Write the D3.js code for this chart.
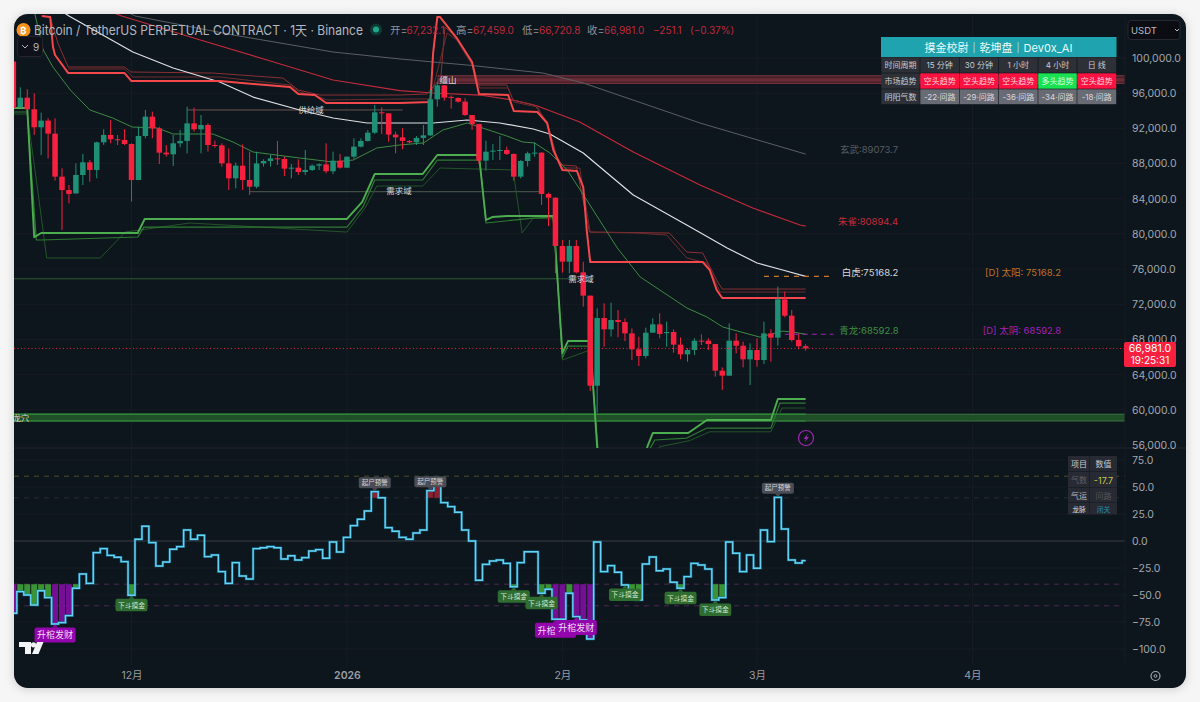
<!DOCTYPE html>
<html><head><meta charset="utf-8">
<script src="https://cdnjs.cloudflare.com/ajax/libs/d3/7.8.5/d3.min.js"></script>
<style>
html,body{margin:0;padding:0;background:#f6f6f7;overflow:hidden}
svg{display:block}
text{font-family:"Inter","Noto Sans CJK SC",sans-serif}
</style></head><body>
<svg id="c" width="1200" height="702"></svg>
<script>
// ---- data (BTCUSDT perpetual, 1D, thousands of USDT) – first candle index is -1 ----
const firstIndex=-1;
const opens=[99.6,94.39,95.49,94.17,92.12,92.88,91.40,86.51,84.99,84.6,86.70,88.14,87.27,90.41,91.25,90.76,90.68,90.22,86.13,91.13,93.33,92.01,89.24,89.05,90.30,90.57,92.57,91.89,92.38,90.11,90.07,88.02,86.32,87.76,86.13,85.37,88.02,88.29,88.59,88.52,87.42,87.53,87.04,87.27,87.76,87.91,87.12,88.33,87.53,88.78,89.92,90.57,91.51,93.82,93.71,91.29,90.98,90.57,90.41,90.91,91.21,95.30,96.89,95.58,95.45,95.04,93.52,92.50,88.33,89.35,89.47,89.54,89.09,86.51,88.29,89.16,89.24,84.54,84.12,78.63,76.84,78.63,75.63,72.98,62.74,70.44,69.15,70.21,69.98,68.69,66.88,66.12,68.77,69.72,68.72,68.85,67.41,66.31,66.80,67.86,67.86,67.48,64.45,63.88,67.86,67.29,65.74,66.80,65.66,68.69,68.20,72.56,70.70,67.94,67.232];
const highs=[99.8,96.67,96.44,95.99,93.79,93.14,93.14,87.46,85.56,88.02,89.09,88.40,90.49,91.89,92.95,91.25,91.89,90.30,92.19,94.09,93.90,92.19,90.11,91.25,91.82,94.47,94.36,93.52,92.57,90.60,90.30,89.73,88.10,90.19,89.35,89.35,88.48,88.97,90.57,88.78,87.95,88.48,89.54,87.91,88.02,90.30,89.35,89.09,88.78,90.87,90.87,91.82,94.66,94.39,93.71,91.63,92.01,90.68,91.13,92.38,96.36,97.31,96.93,95.76,95.53,95.42,93.52,92.50,90.60,90.22,91.13,89.92,89.16,88.40,89.35,90.41,89.28,84.69,84.16,79.31,79.31,79.31,76.84,72.98,71.54,72.10,72.18,71.35,70.40,69.26,68.32,69.34,70.40,70.97,70.02,69.15,68.24,66.99,68.13,68.58,68.13,67.5,64.83,69.83,68.69,67.75,67.56,68.13,70.02,69.15,74.00,73.43,71.35,68.69,67.459];
const lows=[94.3,94.39,94.09,91.25,88.97,88.59,86.05,80.45,83.48,84.61,85.56,85.94,86.32,90.11,90.30,90.11,90.11,83.67,86.13,90.87,90.87,87.95,88.78,87.72,89.85,89.16,91.63,89.16,89.35,89.81,87.65,84.99,85.18,84.99,84.43,85.18,87.65,87.65,87.84,86.59,86.32,86.70,86.70,87.15,87.27,86.89,86.81,87.42,87.53,88.52,89.85,90.49,91.36,91.36,90.49,89.16,89.62,90.30,90.11,90.11,91.13,94.47,95.15,94.24,94.92,93.41,91.82,87.95,87.19,88.40,88.40,88.97,86.05,86.32,87.65,88.78,83.29,80.90,75.52,75.59,75.52,75.52,71.73,62.14,59.67,67.18,68.32,68.24,67.82,65.66,64.98,65.85,68.77,68.13,67.18,66.50,65.74,65.47,66.23,67.37,66.80,63.77,62.25,63.88,66.42,64.83,62.82,64.90,65.21,65.47,67.29,70.51,67.75,66.88,66.7208];
const closes=[94.3,95.49,94.17,92.12,92.88,91.40,86.51,84.99,84.54,86.70,88.14,87.27,90.41,91.25,90.76,90.68,90.22,86.13,91.13,93.33,92.01,89.24,89.05,90.30,90.57,92.57,91.89,92.38,90.11,90.07,88.02,86.32,87.76,86.13,85.37,88.02,88.29,88.59,88.52,87.42,87.53,87.04,87.27,87.76,87.91,87.12,88.33,87.53,88.78,89.92,90.57,91.51,93.82,93.71,91.29,90.98,90.57,90.41,90.91,91.21,95.30,96.89,95.49,95.50,95.04,93.52,92.50,88.33,89.35,89.47,89.54,89.09,86.51,88.29,89.16,89.24,84.54,84.12,78.63,76.84,78.63,75.63,72.98,62.74,70.44,69.15,70.21,69.98,68.69,66.88,66.12,68.77,69.72,68.62,68.85,67.41,66.31,66.80,67.86,67.79,67.48,64.45,63.88,67.86,67.29,65.74,66.80,65.66,68.69,68.20,72.56,70.70,67.94,67.23,66.981];

const whiteTiger=[[6,105.3],[7,104.78],[16.2,100.68],[22,98.86],[28.7,97.27],[33.5,95.56],[40.2,94.09],[45,93.18],[49.9,92.61],[54.6,92.61],[59.4,92.61],[64.3,92.95],[69,92.61],[73.8,91.93],[76.2,91.36],[81,89.2],[88.2,84.42],[96.4,80.78],[101.7,78.4],[106,76.69],[109.7,75.9],[113,75.168]];
const redBird=[[12.5,105.4],[14.6,104.78],[25.9,102.05],[35.5,99.77],[45,97.5],[54.6,96.3],[59.4,96.02],[66.1,95.79],[70.9,95.22],[74.4,94.54],[80.5,92.72],[88.2,89.31],[97.8,85.56],[105.4,82.94],[112.2,81.01],[113,80.894]];
const blackTortoise=[[15.5,105.2],[16.5,104.78],[30.6,102.62],[45,100.68],[54.6,99.89],[64.3,99.2],[75.2,98.29],[81,97.16],[97.8,92.61],[113,89.074]];
const azureDragon=[[2.1,105],[3.3,100.91],[4.7,98.97],[7.2,96.36],[10,94.09],[13.3,93.18],[16.1,92.15],[19.7,92.04],[22,91.36],[27.7,91.36],[30.6,90.45],[33.5,89.31],[40.2,88.63],[45,88.17],[47.9,88.4],[51.3,89.77],[54.6,90.11],[58,90.34],[60.8,91.81],[64.3,92.61],[66.1,92.15],[70,91.13],[72.3,90.45],[74,90.34],[76.2,89.2],[78.7,87.27],[81.5,83.85],[85.9,78.4],[89.2,75.1],[95.9,71.58],[98.8,70.55],[101.1,69.41],[106.4,68.27],[109.7,68.95],[111.2,68.84],[113,68.593]];

const resistMain=[[3.1,104.78],[4.3,104.66],[4.7,101.25],[5,100.34],[6.9,98.29],[15,98.29],[16,97.38],[28.7,97.38],[38.8,96.7],[40,95.9],[42.4,95.79],[44,94.88],[54.6,94.88],[59,95.0],[59.4,100.57],[60,104.66],[60.4,104.66],[62.8,102.27],[65,99.55],[66,95.9],[70.2,95.79],[71,93.97],[74.4,93.86],[75.8,92.61],[76.7,89.54],[78,87.27],[80.1,87.15],[81,85.33],[81.5,80.44],[82,76.8],[98.2,76.8],[99.2,75.9],[100.2,73.62],[101,72.71],[113,72.71]];
const resistUpper=[[3.1,104.78],[4.3,104.66],[5.4,101.71],[6.9,98.97],[15,98.97],[15.9,98.41],[27.7,98.29],[37.8,97.72],[40,96.36],[43.1,95.79],[54.6,95.79],[58.5,95.9],[60.5,97.72],[61.1,103.52],[62.8,102.27],[65,99.43],[66,96.93],[70,96.93],[70.9,95.22],[74,94.66],[75.8,92.72],[77.2,88.74],[78,87.83],[80,87.72],[81.9,80.21],[93.4,80.1],[95.9,77.94],[98.2,77.83],[100.2,74.76],[101,73.73],[113,73.73]];
const resistMid=[[6.9,98.75],[15,98.75],[16.2,97.84],[28.7,97.84],[38.8,96.93],[40.2,96.13],[43.1,95.56],[44.1,95.22],[54.6,95.34],[59,95.34],[61.4,102.84],[62.8,102.05],[65,99.2],[66.1,96.59],[70.2,96.59],[71,95.0],[74.4,94.43],[75.9,92.38],[76.9,89.2],[78,87.49],[80.5,87.49],[82,80.21],[88.7,80.1],[93,79.87],[95.9,77.26],[98.8,76.69],[100.7,73.39],[113,73.39]];

const supportMain=[[-0.9,94.31],[1,94.31],[2,79.64],[3,80.1],[16.9,80.1],[17.9,81.7],[47,81.7],[49.2,83.63],[51,86.81],[57.9,86.81],[60,88.97],[65.7,88.97],[66.1,88.17],[67,81.58],[67.9,81.92],[70,82.03],[76.7,82.03],[78,66.46],[78.8,67.82],[82,67.82],[83,55.76],[84,50.5],[89.8,50.5],[90.2,55.76],[91,57.36],[96.1,57.36],[98.8,58.84],[108,58.84],[109,61.23],[113,61.23]];
const supportLower=[[-0.9,93.86],[1,93.86],[2.3,79.31],[3,79.31],[16.9,79.65],[17.8,80.78],[47,80.78],[49.3,83.06],[51,86.13],[57.9,86.13],[60,88.4],[66.1,88.4],[67,81.24],[73.8,81.8],[76.7,81.92],[78,65.89],[78.8,67.25],[82,67.25],[83.1,55.2],[84,50],[90,50],[90.3,55.2],[91.3,56.57],[95.9,56.79],[98.8,57.93],[108,57.93],[109.3,60.77],[113,60.77]];
const supportDim=[[-0.9,93.63],[1,93.63],[2.5,84.99],[3.8,77.26],[11.5,77.26],[15.1,80.21],[24.4,81.24],[47,80.21],[49.6,82.94],[51.3,85.44],[57.9,85.44],[60.4,87.49],[70.9,87.27],[72.2,80.1],[73.8,81.8],[76.7,81.69],[78,65.66],[82,66.8],[83.4,53.2],[90.6,53.2],[92,55.8],[96.3,56.5],[99.2,57.5],[108,57.5],[109.6,60.2],[113,60.2]];

const zoneSupply=[24,55,94.09], zoneDemandA=[33,75,84.8], zoneDemandB=[-2,80,74.9];
const mountainLevels=[97.98,97.6,97.4,97.12];
const dragonLevels=[59.5,58.73];

const qiValues=[-66.9,-46.9,-50,-59.2,-46,-52.4,-76.8,-75.6,-69.1,-43.8,-30.5,-39.2,-10.8,-7.1,-13.3,-15.1,-19.1,-50.3,1.6,13.6,-1.5,-23.1,-19.4,-7.7,-5.2,10.2,1.6,5.3,-14.5,-13,-28.4,-39.2,-20,-32.4,-35.2,-7.1,-6.2,-5.2,-6.2,-16.7,-13.6,-17.6,-15.4,-9.2,-8,-16,-0.9,-10.2,3.4,14.2,20.1,27.8,45.7,40.1,12.4,9,3.4,1.6,7.4,10.2,46.6,53.4,35.5,31.8,26.6,10.2,0,-36.4,-21.6,-18.5,-17.6,-20.7,-42.3,-20,-9.9,-9.9,-48.4,-44.7,-72.5,-72.5,-48.4,-70,-73.1,-90.7,-0.9,-28.4,-22.8,-29,-40.7,-48.4,-54.6,-21.3,-14.8,-27.5,-25.9,-38.2,-43.8,-33,-20.7,-22.2,-25.9,-54.6,-52.4,-0.9,-11.4,-28.4,-13,-25.3,10.2,-0.6,40.4,11.1,-17.6,-20.4,-18.2];
const qiLevelsYellow=[60,40], qiLevelsPurple=[-40,-60];
const sigGreen=[16,71,75,87,95,100], sigPurple=[5,77,80], sigGray=[51,59,109];

const priceTicks=[100000,96000,92000,88000,84000,80000,76000,72000,68000,64000,60000,56000];
const qiTicks=[75,50,25,0,-25,-50,-75,-100];
const monthIdx=[16,47,78,106,137], monthLabels=["12月","2026","2月","3月","4月"];
const lastPrice=66981, sunLevel=75168.2, moonLevel=68592.8;

const tableTitle="摸金校尉｜乾坤盘｜Dev0x_AI";
const tableHead=["时间周期","15 分钟","30 分钟","1 小时","4 小时","日 线"];
const tableTrend=["市场趋势","空头趋势","空头趋势","空头趋势","多头趋势","空头趋势"];
const tableQi=["阴阳气数","-22·问路","-29·问路","-36·问路","-34·问路","-18·问路"];
const sideRows=[["项目","数值"],["气数","-17.7"],["气运","问路"],["龙脉","闭关"]];

// ---- layout ----
const L=14,R=1186,T=14,B=688,PR=1125,midY=448,botY=665;
const bg="#10121a",grid="#181b23",up="#1f9076",dn="#f7213f";
const svg=d3.select("#c");
const defs=svg.append("defs");
defs.append("filter").attr("id","sh").attr("x","-5%").attr("y","-5%").attr("width","110%").attr("height","110%")
  .append("feDropShadow").attr("dx",0).attr("dy",1).attr("stdDeviation",5).attr("flood-color","#000").attr("flood-opacity",.18);
defs.append("clipPath").attr("id","card").append("rect").attr("x",L).attr("y",T).attr("width",R-L).attr("height",B-T).attr("rx",14);
defs.append("clipPath").attr("id","pMain").append("rect").attr("x",L).attr("y",T).attr("width",PR-L).attr("height",midY-T);
defs.append("clipPath").attr("id","pLow").append("rect").attr("x",L).attr("y",midY+1).attr("width",PR-L).attr("height",botY-midY-1);

svg.append("rect").attr("x",L).attr("y",T).attr("width",R-L).attr("height",B-T).attr("rx",14).attr("fill",bg).attr("filter","url(#sh)");
const root=svg.append("g").attr("clip-path","url(#card)");

const x=d3.scaleLinear().domain([0,113]).range([20.3,805.65]);
const y=d3.scaleLinear().domain([100000,56000]).range([58,445]);
const yq=d3.scaleLinear().domain([75,-100]).range([460,649]);
const indices=opens.map((_,i)=>i+firstIndex);

// grid
const gridG=root.append("g").attr("stroke",grid).attr("stroke-width",1);
gridG.selectAll(".v").data(monthIdx).join("line").attr("x1",d=>x(d)).attr("x2",d=>x(d)).attr("y1",T).attr("y2",botY);
gridG.selectAll(".h").data(priceTicks).join("line").attr("x1",L).attr("x2",PR).attr("y1",d=>y(d)).attr("y2",d=>y(d));
gridG.selectAll(".q").data(qiTicks.filter(d=>d!==0)).join("line").attr("x1",L).attr("x2",PR).attr("y1",d=>yq(d)).attr("y2",d=>yq(d));
root.append("line").attr("x1",L).attr("x2",R).attr("y1",midY).attr("y2",midY).attr("stroke","#1c1f27").attr("stroke-width",1.5);

// main pane
const m=root.append("g").attr("clip-path","url(#pMain)");
const k=v=>y(v*1000);
m.append("rect").attr("x",x(60)).attr("width",PR-x(60)).attr("y",k(mountainLevels[0])).attr("height",k(mountainLevels[3])-k(mountainLevels[0])).attr("fill","#43202a");
m.selectAll(".ml").data(mountainLevels).join("line").attr("x1",x(60)).attr("x2",PR).attr("y1",k).attr("y2",k).attr("stroke","#84343f").attr("stroke-width",1);
m.append("rect").attr("x",L).attr("width",PR-L).attr("y",k(dragonLevels[0])).attr("height",k(dragonLevels[1])-k(dragonLevels[0])).attr("fill","#1f4f27");
m.selectAll(".dl").data(dragonLevels).join("line").attr("x1",L).attr("x2",PR).attr("y1",k).attr("y2",k).attr("stroke","#3d7343").attr("stroke-width",1);
m.selectAll(".dlb").data(dragonLevels).join("line").attr("x1",L).attr("x2",x(113)).attr("y1",k).attr("y2",k).attr("stroke","#2f8f38").attr("stroke-width",1.2);

[[zoneSupply,"#6d5452"],[zoneDemandA,"#4f5a50"],[zoneDemandB,"#2d5a33"]].forEach(([z,c])=>{
  m.append("line").attr("x1",x(z[0])).attr("x2",x(z[1])).attr("y1",k(z[2])).attr("y2",k(z[2])).attr("stroke",c).attr("stroke-width",1);
});

const line=d3.line().x(d=>x(d[0])).y(d=>k(d[1]));
[[blackTortoise,"#5c5f66",1],[redBird,"#c32a3c",1.2],[supportDim,"#24552a",1],[supportLower,"#2f7a33",1.2],[resistUpper,"#8a3034",1],[resistMid,"#6e2c30",1],[azureDragon,"#3f8a44",1],[whiteTiger,"#dfe0e4",1.2],[supportMain,"#4cae4f",1.9],[resistMain,"#f4484c",2]].forEach(([d,c,w])=>{
  m.append("path").datum(d).attr("d",line).attr("fill","none").attr("stroke",c).attr("stroke-width",w).attr("stroke-linejoin","round");
});

// candles
const cg=m.append("g").selectAll("g").data(indices).join("g");
const col=i=>closes[i-firstIndex]>=opens[i-firstIndex]?up:dn;
cg.append("line").attr("x1",x).attr("x2",x).attr("y1",i=>k(highs[i-firstIndex])).attr("y2",i=>k(lows[i-firstIndex])).attr("stroke",col).attr("stroke-width",1);
cg.append("rect").attr("x",i=>x(i)-2.75).attr("width",5.5)
  .attr("y",i=>k(Math.max(opens[i-firstIndex],closes[i-firstIndex])))
  .attr("height",i=>Math.max(1,Math.abs(k(opens[i-firstIndex])-k(closes[i-firstIndex])))).attr("fill",col);

// levels
m.append("line").attr("x1",x(107)).attr("x2",x(117)).attr("y1",y(sunLevel)).attr("y2",y(sunLevel)).attr("stroke","#c77a2b").attr("stroke-width",1.2).attr("stroke-dasharray","5 5");
m.append("line").attr("x1",x(110)).attr("x2",x(117)).attr("y1",y(moonLevel)).attr("y2",y(moonLevel)).attr("stroke","#9c27b0").attr("stroke-width",1.2).attr("stroke-dasharray","5 4");
root.append("line").attr("x1",L).attr("x2",PR).attr("y1",y(lastPrice)).attr("y2",y(lastPrice)).attr("stroke",dn).attr("stroke-width",1).attr("stroke-dasharray","1 2.5");

const tx=(s,px,py,c,fs,a="start",extra={})=>{const t=root.append("text").attr("x",px).attr("y",py).attr("fill",c).attr("font-size",fs).attr("text-anchor",a).attr("dominant-baseline","central").text(s);for(const q in extra)t.attr(q,extra[q]);return t;};

[["供给域",311,110],["需求域",399,191],["缰山",448,80],["需求域",581,279]].forEach(d=>tx(d[0],d[1],d[2],"#d8d9dc",8.5,"middle"));
tx("龙穴",21,418,"#d8d9dc",8,"middle");
tx("玄武:89073.7",869,149.5,"#585b62",9.5,"middle");
tx("朱雀:80894.4",868,221.5,"#c32a3c",9.5,"middle");
tx("白虎:75168.2",870,272.5,"#d8d9dc",9.5,"middle");
tx("青龙:68592.8",869,330.5,"#3f8f45",9.5,"middle");
tx("[D] 太阳: 75168.2",1023,272.5,"#bf7327",9.5,"middle");
tx("[D] 太阴: 68592.8",1022,330.5,"#a221b8",9.5,"middle");

// lightning icon
root.append("circle").attr("cx",806).attr("cy",438).attr("r",7.5).attr("fill","none").attr("stroke","#a028b0").attr("stroke-width",1.2);
root.append("path").attr("d","M808,433.5 L803.5,439 H806 L804.5,442.5 L809,437 H806.5 Z").attr("fill","#a028b0");

// lower pane
const q=root.append("g").attr("clip-path","url(#pLow)");
q.append("line").attr("x1",L).attr("x2",PR).attr("y1",yq(0)).attr("y2",yq(0)).attr("stroke","#3a3d46").attr("stroke-width",1);
q.append("line").attr("x1",L).attr("x2",PR).attr("y1",yq(qiLevelsYellow[0])).attr("y2",yq(qiLevelsYellow[0])).attr("stroke","#4d4d2e").attr("stroke-dasharray","5 5");
q.append("line").attr("x1",L).attr("x2",PR).attr("y1",yq(qiLevelsYellow[1])).attr("y2",yq(qiLevelsYellow[1])).attr("stroke","#2a2c34").attr("stroke-dasharray","5 5");
q.selectAll(".pl").data(qiLevelsPurple).join("line").attr("x1",L).attr("x2",PR).attr("y1",yq).attr("y2",yq).attr("stroke","#4a2a52").attr("stroke-dasharray","5 5");

const qiAt=i=>qiValues[i-firstIndex];
const barSpec=indices.filter(i=>qiAt(i)<-40||qiAt(i)>42);
q.selectAll(".bar").data(barSpec).join("rect").attr("x",i=>x(i)-3).attr("width",6)
  .attr("y",i=>qiAt(i)>0?yq(qiAt(i)):yq(-40)).attr("height",i=>qiAt(i)>0?yq(40)-yq(qiAt(i)):yq(qiAt(i))-yq(-40))
  .attr("fill",i=>qiAt(i)>0?"#8a2030":(qiAt(i)<-60?"#740f96":"#3a9334"));

const step=d3.line().x(i=>x(i)).y(i=>yq(qiAt(i))).curve(d3.curveStep);
q.append("path").datum(indices).attr("d",step).attr("fill","none").attr("stroke","#1a86ad").attr("stroke-width",2.6).attr("opacity",.7);
q.append("path").datum(indices).attr("d",step).attr("fill","none").attr("stroke","#66d2f4").attr("stroke-width",1.4);

// signals
function sig(i,text,fill,tc,w,h,fs,below){
  const cx=x(i), ly=yq(qiAt(i)), top=below?ly+3.5:ly-3.5-h;
  q.append("path").attr("d",below?`M${cx-3},${top} L${cx},${top-3} L${cx+3},${top} Z`:`M${cx-3},${top+h} L${cx},${top+h+3} L${cx+3},${top+h} Z`).attr("fill",fill);
  q.append("rect").attr("x",cx-w/2).attr("y",top).attr("width",w).attr("height",h).attr("rx",2).attr("fill",fill);
  q.append("text").attr("x",cx).attr("y",top+h/2).attr("fill",tc).attr("font-size",fs).attr("text-anchor","middle").attr("dominant-baseline","central").text(text);
}
sigGreen.forEach(i=>sig(i,"下斗摸金","#2f6c30","#cfe6cf",32,12.5,6.8,true));
sigGray.forEach(i=>sig(i,"起尸预警","#4a4d56","#d6d7da",32,11,6.5,false));
sigPurple.forEach(i=>sig(i,"升棺发财","#9406ad","#f3dcf7",41,15,9,true));

// price axis
const fmtAxis=g=>{g.select(".domain").remove();g.selectAll("text").attr("fill","#a3a6af").attr("font-size",10.5).attr("font-family","Inter,sans-serif").attr("dy",".32em");};
root.append("g").attr("transform",`translate(${PR},0)`).call(d3.axisRight(y).tickValues(priceTicks).tickSize(0).tickPadding(7).tickFormat(d3.format(",.1f"))).call(fmtAxis);
root.append("g").attr("transform",`translate(${PR},0)`).call(d3.axisRight(yq).tickValues(qiTicks).tickSize(0).tickPadding(7).tickFormat(d3.format(".1f"))).call(fmtAxis);
root.append("line").attr("x1",PR).attr("x2",PR).attr("y1",T).attr("y2",botY).attr("stroke","#181b23");

// time axis
const tAxis=root.append("g").attr("transform",`translate(0,672)`).call(d3.axisBottom(x).tickValues(monthIdx).tickSize(0).tickPadding(0).tickFormat((d,i)=>monthLabels[i]));
tAxis.select(".domain").remove();
tAxis.selectAll("text").attr("fill","#9a9da6").attr("font-size",10.5).attr("font-family",'Inter,"Noto Sans CJK SC",sans-serif').attr("font-weight",(d,i)=>monthLabels[i]==="2026"?600:400);

// last price tag
const py=y(lastPrice);
root.append("rect").attr("x",1124).attr("y",py-6.5).attr("width",52).attr("height",25).attr("rx",2).attr("fill",dn);
tx(d3.format(",.1f")(lastPrice),1150,py+0.5,"#fff",10.5,"middle");
tx("19:25:31",1150,py+12,"#fff",10,"middle");

// USDT box
root.append("rect").attr("x",1128).attr("y",20.5).attr("width",52).attr("height",19).attr("rx",3).attr("fill","#0b0d13").attr("stroke","#262932");
tx("USDT",1131,30,"#b8bbc4",9.5);
root.append("path").attr("d","M1175,29 l2,2 l2,-2").attr("fill","none").attr("stroke","#b8bbc4");

// title
root.append("circle").attr("cx",23.5).attr("cy",30).attr("r",7).attr("fill","#f7931a");
tx("₿",23.5,30.3,"#fff",9.5,"middle",{"font-weight":700,"font-family":"DejaVu Sans"});
tx("Bitcoin / TetherUS PERPETUAL CONTRACT · 1天 · Binance",34,30,"#b4b7c0",13,"start",{"textLength":329,"lengthAdjust":"spacingAndGlyphs"});
root.append("circle").attr("cx",376).attr("cy",29.5).attr("r",6).attr("fill","#0e3a34");
root.append("circle").attr("cx",376).attr("cy",29.5).attr("r",3).attr("fill","#1fa58a");
const ohlcLabels=[["开=",390],["高=",456],["低=",522],["收=",587]];
const ohlcVals=[["67,232.1",406.5],["67,459.0",473],["66,720.8",539],["66,981.0",604],["−251.1",653],["(−0.37%)",690]];
ohlcLabels.forEach(d=>tx(d[0],d[1],30,"#8f929b",10.5));
ohlcVals.forEach(d=>tx(d[0],d[1],30,"#c0283c",10));

// collapse box
root.append("rect").attr("x",17.5).attr("y",36.5).attr("width",25).attr("height",20).attr("rx",3).attr("fill","#0f1119").attr("stroke","#23262f");
root.append("path").attr("d","M22,45 l3,3 l3,-3").attr("fill","none").attr("stroke","#b4b7c0");
tx("9",33,46.5,"#b4b7c0",10);

// top-right table
const colsX=[881,920,959.3,998.6,1038,1077,1116.5], rowsY=[57,73,89,104.5];
root.append("rect").attr("x",881).attr("y",37).attr("width",235.5).attr("height",20).attr("fill","#1fa3ae");
tx(tableTitle,998.5,47.5,"#eafcfd",11,"middle");
[tableHead,tableTrend,tableQi].forEach((row,r)=>{
  row.forEach((t,c)=>{
    let f="#2d3037",tc="#c9cbd0";
    if(c>0&&r===1){f=t==="多头趋势"?"#18e152":"#fb1240";tc=t==="多头趋势"?"#d6ffe0":"#ffd5dc";}
    if(c>0&&r===2){f="#686a74";tc="#d8d9dd";}
    root.append("rect").attr("x",colsX[c]+.3).attr("y",rowsY[r]+.3).attr("width",colsX[c+1]-colsX[c]-.6).attr("height",rowsY[r+1]-rowsY[r]-.6).attr("fill",f);
    tx(t,(colsX[c]+colsX[c+1])/2,(rowsY[r]+rowsY[r+1])/2+.3,tc,8,"middle");
  });
});

// side table
const sx=[1068,1090,1117], sy=[456,472,488,503,515];
const sideColors=[["#c9cbd0","#c9cbd0"],["#5d6068","#c9c84a"],["#b8bac0","#53565e"],["#d8d9dc","#1c8ea3"]];
sideRows.forEach((row,r)=>row.forEach((t,c)=>{
  root.append("rect").attr("x",sx[c]).attr("y",sy[r]).attr("width",sx[c+1]-sx[c]-(c==0?.5:0)).attr("height",sy[r+1]-sy[r]-.5).attr("fill","#272a32");
  tx(t,(sx[c]+sx[c+1])/2,(sy[r]+sy[r+1])/2,sideColors[r][c],r===3?6.8:(r===1&&c===1?9:8),"middle");
}));

// TradingView mark
const logo=root.append("g").attr("fill","#f2f3f5");
logo.append("path").attr("d","M19,642 H31 V654 H25 V647 H19 Z");
logo.append("circle").attr("cx",33.5).attr("cy",644.8).attr("r",2.6);
logo.append("path").attr("d","M37,642 H43.5 L38.5,654 H32 Z");

// settings gear
root.append("circle").attr("cx",1155.5).attr("cy",676).attr("r",4.5).attr("fill","none").attr("stroke","#a3a6af").attr("stroke-width",1.2);
root.append("circle").attr("cx",1155.5).attr("cy",676).attr("r",1.4).attr("fill","none").attr("stroke","#a3a6af");
</script>
</body></html>
